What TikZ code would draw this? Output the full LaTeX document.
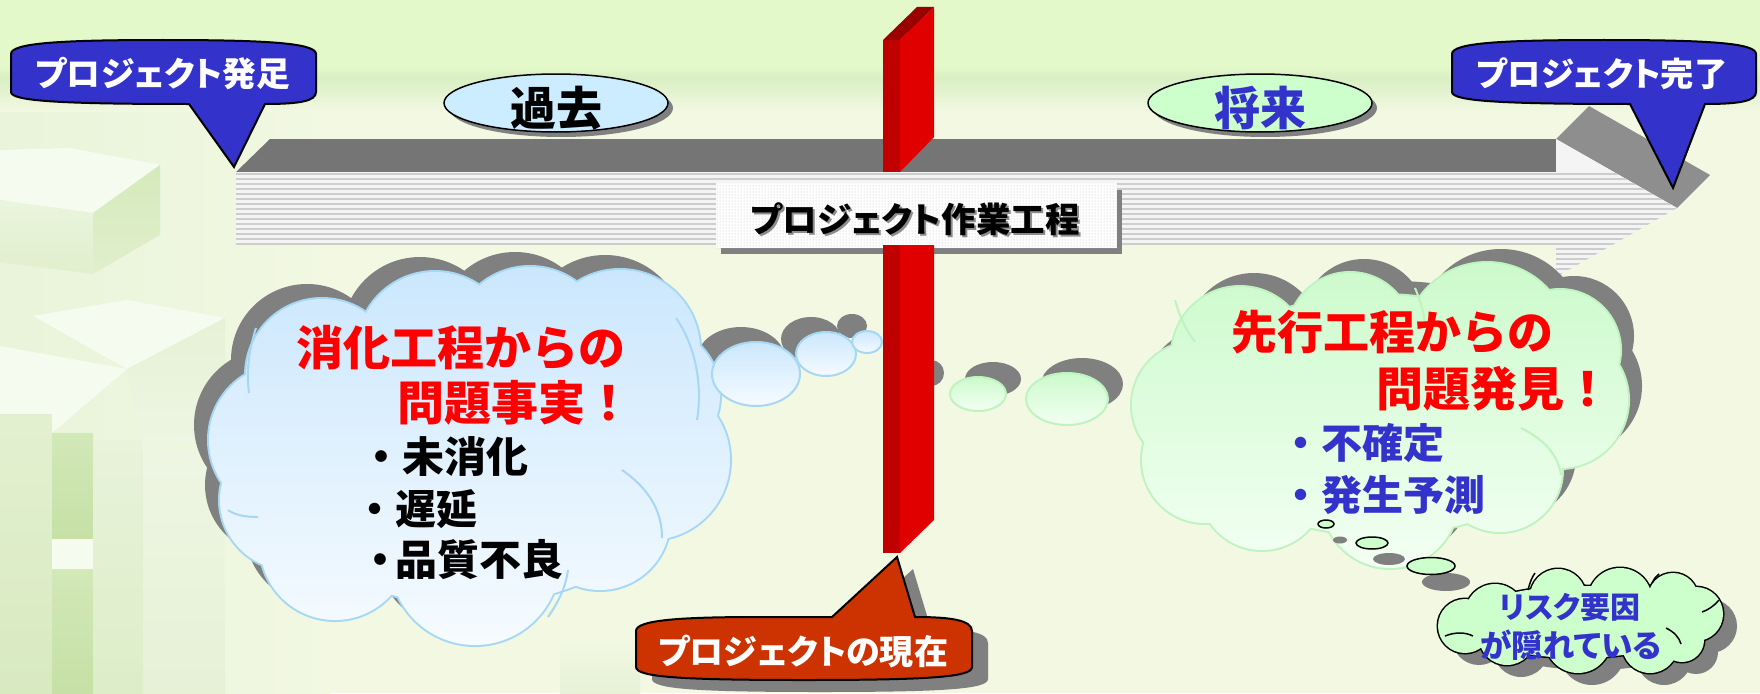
\documentclass[tikz,border=0pt]{standalone}
\usepackage{fontspec}
\newfontfamily\jp{Noto Sans CJK JP}
\newfontfamily\jpp{Noto Sans CJK JP}[RawFeature=+palt]
\usetikzlibrary{shapes.symbols,shapes.geometric,patterns}
\definecolor{bgtop}{HTML}{E3F9CA}
\definecolor{bgband}{HTML}{D9EFC4}
\definecolor{bgmain}{HTML}{F2F8E2}
\definecolor{shgray}{HTML}{808080}
\definecolor{bandgray}{HTML}{757575}
\definecolor{headgray}{HTML}{8E8E8E}
\definecolor{stripebg}{HTML}{F4F4F4}
\definecolor{stripe}{HTML}{CDCDCD}
\definecolor{redL}{HTML}{C00000}
\definecolor{redR}{HTML}{E00000}
\definecolor{redT}{HTML}{9A0000}
\definecolor{cblue}{HTML}{3333CC}
\definecolor{cred}{HTML}{CC3300}
\definecolor{pastblue}{HTML}{CCECFF}
\definecolor{futgreen}{HTML}{CCFFCC}
\definecolor{lcline}{HTML}{A6D8F5}
\definecolor{lctop}{HTML}{CBE7FD}
\definecolor{lcbot}{HTML}{F6FBFF}
\definecolor{gcline}{HTML}{BFF3BF}
\definecolor{gctop}{HTML}{CCFACC}
\definecolor{gcbot}{HTML}{F3FFF3}
\definecolor{txtred}{HTML}{FF0000}
\definecolor{txtblue}{HTML}{3333CC}
\definecolor{cwash}{HTML}{E9F4DA}
\definecolor{ctop}{HTML}{F6FBEF}
\definecolor{cA}{HTML}{EAF5DD}
\definecolor{cB}{HTML}{E0EFCD}
\definecolor{cC}{HTML}{D5EABB}
\definecolor{cD}{HTML}{E3F0D0}
\definecolor{cE}{HTML}{D8EAC0}
\definecolor{cF}{HTML}{D2E8B8}
\definecolor{cG}{HTML}{C6E0A6}
\definecolor{cH}{HTML}{E8F3DA}
\definecolor{cI}{HTML}{DDEDC8}
\definecolor{cJ}{HTML}{EEF6E3}
\definecolor{cK}{HTML}{E6F1D6}
\newcommand\fsz[1]{\fontsize{#1}{#1}\selectfont}
\newcommand\fitw[2]{\resizebox{#1pt}{!}{#2}}
\def\LC{(470,455) ellipse[x radius=215,y radius=150] (322,375) circle[radius=76] (435,350) circle[radius=78] (530,345) circle[radius=78] (620,350) circle[radius=80] (650,395) circle[radius=70] (650,460) circle[radius=80] (600,520) circle[radius=70] (475,560) circle[radius=85] (335,545) circle[radius=75] (290,500) circle[radius=70] (285,440) circle[radius=76]}
\def\GC{(1380,415) ellipse[x radius=200,y radius=120] (1240,355) circle[radius=68] (1350,335) circle[radius=62] (1487,345) circle[radius=82] (1560,350) circle[radius=60] (1560,400) circle[radius=68] (1500,470) circle[radius=62] (1390,500) circle[radius=68] (1262,487) circle[radius=63] (1205,460) circle[radius=63] (1195,405) circle[radius=63]}
\def\RC{(1578,622) ellipse[x radius=112,y radius=36] (1495,614) circle[radius=30] (1558,597) circle[radius=28] (1620,600) circle[radius=32] (1673,598) circle[radius=25] (1696,614) circle[radius=27] (1682,640) circle[radius=22] (1650,645) circle[radius=28] (1578,640) circle[radius=33] (1507,637) circle[radius=28] (1465,626) circle[radius=27]}
\begin{document}
\begin{tikzpicture}[x=1pt,y=-1pt,
  txt/.style={inner sep=0pt, outer sep=0pt},
  calloutblue/.style={fill=cblue, draw=black, line width=2},
  calloutred/.style={fill=cred, draw=black, line width=2},
  lbub/.style={draw=lcline, line width=2, top color=lctop, bottom color=lcbot},
  gbub/.style={draw=gcline, line width=2, top color=gctop, bottom color=gcbot},
  sbub/.style={draw=black, line width=1.5, fill=futgreen},
  larc/.style={draw=lcline, line width=2},
  garc/.style={draw=gcline, line width=2},
  rarc/.style={draw=black, line width=1.5}]
\useasboundingbox (0,0) rectangle (1760,693);
\clip (0,0) rectangle (1760,693);
% background
\fill[bgmain] (0,0) rectangle (1760,693);
\fill[bgtop] (0,0) rectangle (1760,66);
\shade[top color=bgtop, bottom color=bgband] (0,66) rectangle (1760,78);
\shade[top color=bgband, bottom color=bgmain] (0,78) rectangle (1760,112);
% faint cubes on the left
\shade[left color=cwash, right color=bgmain] (0,112) rectangle (330,693);
\fill[ctop] (0,150) -- (70,148) -- (160,165) -- (93,213) -- (0,200) -- cycle;
\shade[top color=cA, bottom color=cB] (0,200) -- (93,213) -- (93,274) -- (0,262) -- cycle;
\shade[top color=cC, bottom color=cB] (93,213) -- (160,165) -- (160,235) -- (93,274) -- cycle;
\fill[ctop] (33,316) -- (127,300) -- (225,318) -- (127,369) -- cycle;
\fill[ctop] (0,346) -- (127,369) -- (52,433) -- (0,414) -- cycle;
\shade[top color=cD, bottom color=cE] (0,414) rectangle (52,693);
\shade[top color=cF, bottom color=cG] (52,433) rectangle (93,539);
\shade[top color=cF, bottom color=cG] (52,569) rectangle (93,693);
\fill[ctop] (52,539) -- (93,539) -- (140,547) -- (93,569) -- (52,569) -- cycle;
\shade[top color=cH, bottom color=cI] (93,440) rectangle (143,693);
\shade[top color=cJ, bottom color=cK] (143,450) rectangle (225,693);
\shade[top color=cK, bottom color=cJ] (127,369) -- (225,318) -- (225,440) -- (143,450) -- cycle;
\shade[top color=bgmain, bottom color=cK] (560,640) rectangle (640,693);
% process arrow
\fill[bandgray] (236,172) -- (270,139) -- (1556,139) -- (1556,172) -- cycle;
\fill[headgray] (1556,139) -- (1589,106) -- (1710,175) -- (1677,208) -- cycle;
\begin{scope}
\clip (236,172) -- (1556,172) -- (1556,139) -- (1677,208) -- (1556,277) -- (1556,245) -- (236,245) -- cycle;
\fill[stripebg] (230,130) rectangle (1700,290);
\foreach \yy in {174,179,...,290} \draw[stripe, line width=2.2] (230,\yy) -- (1700,\yy);
\end{scope}
% red bar, upper part
\fill[redL] (883,40) rectangle (900,172);
\fill[redR] (900,40) -- (934,7) -- (934,137) -- (900,172) -- cycle;
\fill[redT] (883,40) -- (917,7) -- (934,7) -- (900,40) -- cycle;
% process label
\fill[shgray] (721,190) rectangle (1122,254);
\fill[white] (716,183) rectangle (1117,248);
\fill[pattern=dots, pattern color=black!25] (716,183) rectangle (1117,248);
\node[txt, text=black!45] (procsh) at (917,221) {\jpp\bfseries\fsz{34}\fitw{329}{プロジェクト作業工程}};
\node[txt] (proc) at (915,219) {\jpp\bfseries\fsz{34}\fitw{329}{プロジェクト作業工程}};
% past / future ellipses
\fill[shgray] (561,108) ellipse[x radius=112,y radius=29];
\node[draw=black, line width=1.5, fill=pastblue, ellipse, minimum width=224, minimum height=58, inner sep=0] (pastE) at (556,103) {};
\node[txt] (past) at (556,108) {\jp\bfseries\fsz{46}過去};
\fill[shgray] (1265,108) ellipse[x radius=112,y radius=29];
\node[draw=black, line width=1.5, fill=futgreen, ellipse, minimum width=224, minimum height=58, inner sep=0] (futE) at (1260,103) {};
\node[txt, text=txtblue] (fut) at (1260,108) {\jp\bfseries\fsz{46}将来};
% blue callouts
\path[calloutblue] (11,54) .. controls (11,43) and (60,40) .. (163,40) .. controls (266,40) and (316,43) .. (316,54) -- (316,92) .. controls (316,101) and (300,104) .. (265,104) -- (234,167) -- (189,104) .. controls (60,104) and (11,101) .. (11,92) -- cycle;
\node[txt, text=white] (start) at (163,74) {\jpp\bfseries\fsz{34}\fitw{255}{プロジェクト発足}};
\path[calloutblue] (1452,54) .. controls (1452,43) and (1500,40) .. (1604,40) .. controls (1708,40) and (1756,43) .. (1756,54) -- (1756,92) .. controls (1756,101) and (1740,104) .. (1705,104) -- (1673,188) -- (1630,104) .. controls (1500,104) and (1452,101) .. (1452,92) -- cycle;
\node[txt, text=white] (finish) at (1602,74) {\jpp\bfseries\fsz{34}\fitw{251}{プロジェクト完了}};
% left cloud
\fill[shgray, shift={(-15,-15)}] \LC;
\fill[shgray] (741,359) ellipse[x radius=44,y radius=32];
\fill[shgray] (811,339) ellipse[x radius=30,y radius=22];
\fill[shgray] (852,326) ellipse[x radius=15,y radius=12];
\draw[lcline, line width=4] \LC;
\shade[top color=lctop, bottom color=lcbot] \LC;
\path[larc] (676,318) .. controls (698,350) and (702,390) .. (697,420);
\path[larc] (622,470) .. controls (648,488) and (662,510) .. (662,538);
\path[larc] (256,328) .. controls (249,350) and (246,372) .. (249,393);
\path[larc] (228,510) .. controls (235,515) and (245,517) .. (258,517);
\path[larc] (548,617) .. controls (560,600) and (566,585) .. (568,570);
\path[lbub] (756,374) ellipse[x radius=44,y radius=32];
\path[lbub] (826,354) ellipse[x radius=30,y radius=22];
\path[lbub] (867,342) ellipse[x radius=15,y radius=11];
\node[txt, anchor=west, text=txtred] (lt1) at (296,348) {\jp\bfseries\fsz{47}消化工程からの};
\node[txt, anchor=west, text=txtred] (lt2) at (397,403) {\jp\bfseries\fsz{47}問題事実！};
\node[txt, anchor=west] (lb1) at (360,457) {\jp\bfseries\fsz{42}・未消化};
\node[txt, anchor=west] (lb2) at (354,509) {\jp\bfseries\fsz{41}・遅延};
\node[txt, anchor=west] (lb3) at (359,560) {\jp\bfseries\fsz{42}・\hspace{-6pt}品質不良};
% green bubbles
\fill[shgray] (931,373) circle[radius=13];
\path[gbub] (916,388) circle[radius=13];
\fill[shgray] (993,379) ellipse[x radius=28,y radius=17];
\path[gbub] (978,394) ellipse[x radius=28,y radius=17];
\fill[shgray] (1082,384) ellipse[x radius=41,y radius=26];
\path[gbub] (1067,399) ellipse[x radius=41,y radius=26];
% red bar, lower part
\fill[redL] (883,245) rectangle (900,553);
\fill[redR] (900,245) -- (934,245) -- (934,520) -- (900,553) -- cycle;
% green cloud
\fill[shgray, shift={(14,-14)}] \GC;
\draw[gcline, line width=4] \GC;
\shade[top color=gctop, bottom color=gcbot] \GC;
\path[garc] (1521,428) .. controls (1545,440) and (1558,455) .. (1561,475);
\path[garc] (1175,300) .. controls (1180,318) and (1186,330) .. (1195,342);
\path[garc] (1415,288) .. controls (1420,300) and (1424,312) .. (1425,325);
\node[txt, anchor=west, text=txtred] (rt1) at (1231,332) {\jp\bfseries\fsz{46}先行工程からの};
\node[txt, anchor=west, text=txtred] (rt2) at (1376,389) {\jp\bfseries\fsz{47}問題発見！};
\node[txt, anchor=west, text=txtblue] (rb1) at (1280,443) {\jp\bfseries\fsz{41}・不確定};
\node[txt, anchor=west, text=txtblue] (rb2) at (1280,495) {\jp\bfseries\fsz{41}・発生予測};
% small thought bubbles
\fill[shgray] (1340,540) ellipse[x radius=7,y radius=3.5];
\path[sbub] (1326,524) ellipse[x radius=8,y radius=4];
\fill[shgray] (1389,559) ellipse[x radius=16,y radius=6];
\path[sbub] (1372,543) ellipse[x radius=16,y radius=6];
\fill[shgray] (1446,582) ellipse[x radius=24,y radius=9];
\path[sbub] (1431,566) ellipse[x radius=24,y radius=8.5];
% risk cloud
\fill[shgray, shift={(14,12)}] \RC;
\draw[black, line width=3] \RC;
\fill[futgreen] \RC;
\path[rarc] (1445,636) .. controls (1455,632) and (1465,632) .. (1473,636);
\path[rarc] (1702,612) .. controls (1708,610) and (1714,606) .. (1719,600);
\path[rarc] (1666,628) .. controls (1674,632) and (1679,637) .. (1681,644);
\path[rarc] (1528,590) .. controls (1530,582) and (1532,577) .. (1535,573);
\path[rarc] (1652,583) .. controls (1654,579) and (1656,576) .. (1659,574);
\node[txt, text=txtblue] (risk1) at (1570,607) {\jpp\bfseries\fsz{30}\fitw{141}{リスク要因}};
\node[txt, text=txtblue] (risk2) at (1571,645) {\jpp\bfseries\fsz{30}\fitw{181}{が隠れている}};
% present callout
\fill[shgray, shift={(16,12)}] (636,631) .. controls (636,620) and (680,617) .. (760,617) -- (832,617) -- (897,557) -- (915,617) .. controls (950,617) and (972,620) .. (972,631) -- (972,667) .. controls (972,677) and (930,680) .. (804,680) .. controls (680,680) and (636,677) .. (636,667) -- cycle;
\path[calloutred] (636,631) .. controls (636,620) and (680,617) .. (760,617) -- (832,617) -- (897,557) -- (915,617) .. controls (950,617) and (972,620) .. (972,631) -- (972,667) .. controls (972,677) and (930,680) .. (804,680) .. controls (680,680) and (636,677) .. (636,667) -- cycle;
\node[txt, text=white] (now) at (803,651) {\jpp\bfseries\fsz{34}\fitw{290}{プロジェクトの現在}};
\end{tikzpicture}
\end{document}
